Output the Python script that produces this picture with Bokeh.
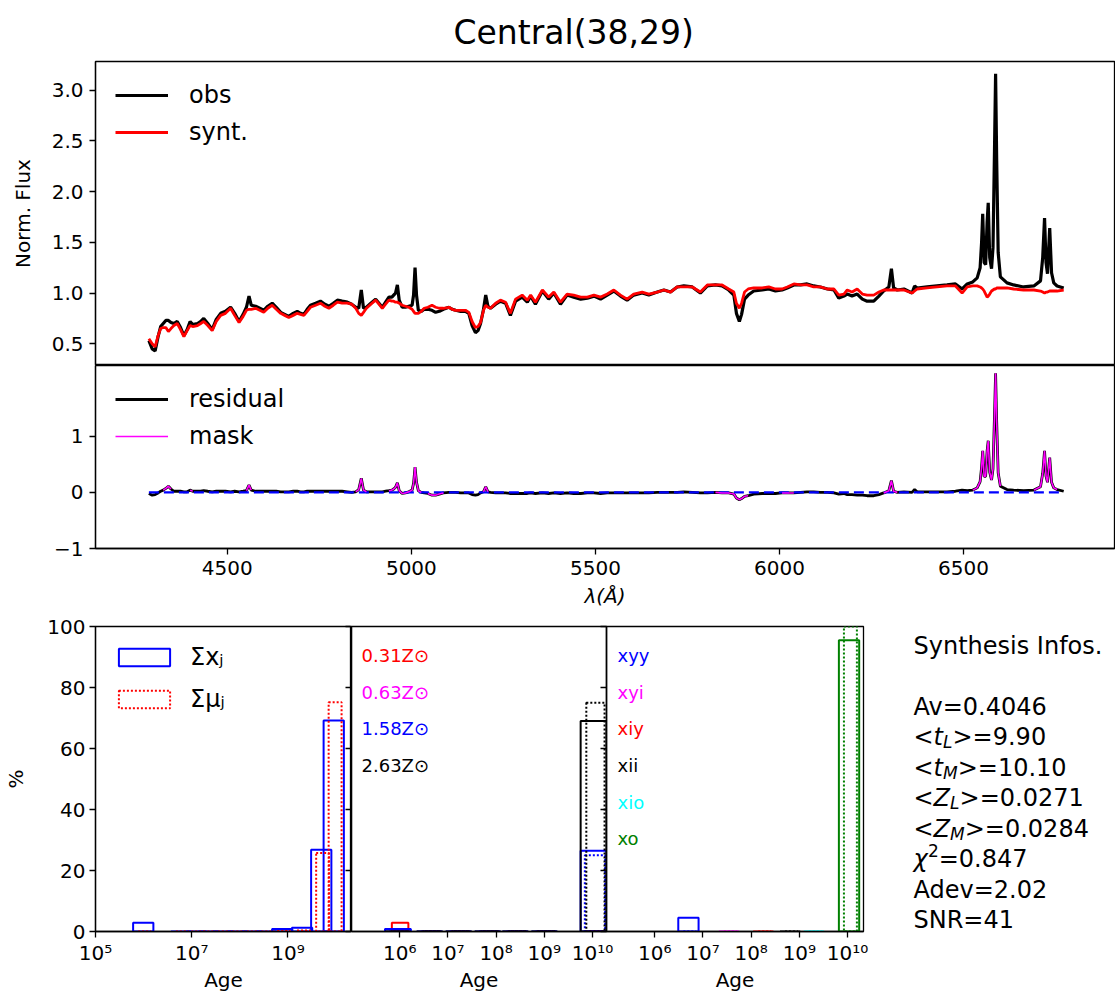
import numpy as np
from bokeh.plotting import figure
from bokeh.layouts import column, row
from bokeh.models import (Range1d, FixedTicker, PrintfTickFormatter, CustomJSTickFormatter,
                          Legend, LegendItem, Label, ColumnDataSource)
from bokeh.embed import file_html
from bokeh.resources import INLINE

FONT = "DejaVu Sans"

# ---------------- spectrum (normalised flux) ----------------
wave = [4287, 4296, 4304, 4312, 4319, 4326, 4333, 4340, 4347, 4355,
        4364, 4373, 4382, 4391, 4399, 4406, 4419, 4428, 4436, 4447,
        4459, 4470, 4482, 4495, 4509, 4520, 4532, 4543, 4552, 4559,
        4565, 4577, 4588, 4599, 4610, 4622, 4633, 4645, 4656, 4667,
        4679, 4690, 4699, 4708, 4717, 4726, 4740, 4753, 4765, 4776,
        4788, 4799, 4812, 4826, 4838, 4849, 4857, 4864, 4870, 4878,
        4890, 4903, 4912, 4921, 4930, 4939, 4947, 4952, 4957, 4962,
        4967, 4975, 4984, 4993, 5002, 5006, 5010, 5014, 5019, 5027,
        5035, 5045, 5056, 5066, 5076, 5087, 5102, 5111, 5120, 5134,
        5147, 5156, 5165, 5174, 5181, 5188, 5196, 5202, 5208, 5215,
        5229, 5242, 5256, 5269, 5283, 5301, 5315, 5324, 5337, 5356,
        5373, 5387, 5405, 5423, 5441, 5460, 5478, 5496, 5514, 5532,
        5550, 5568, 5586, 5604, 5627, 5645, 5668, 5686, 5704, 5722,
        5740, 5763, 5785, 5804, 5826, 5844, 5862, 5876, 5883, 5891,
        5897, 5905, 5915, 5930, 5953, 5971, 5989, 6007, 6021, 6039,
        6057, 6075, 6093, 6111, 6130, 6148, 6161, 6175, 6184, 6197,
        6211, 6225, 6238, 6256, 6270, 6283, 6297, 6304, 6310, 6320,
        6338, 6360, 6367, 6374, 6401, 6428, 6455, 6478, 6496, 6510,
        6525, 6537, 6545, 6549, 6552, 6556, 6560, 6564, 6567, 6571,
        6576, 6580, 6584, 6587, 6590, 6594, 6600, 6618, 6636, 6663,
        6691, 6709, 6715, 6720, 6724, 6728, 6734, 6739, 6745, 6754,
        6772]

flux_syn = [0.55, 0.50, 0.47, 0.58, 0.65, 0.66, 0.66, 0.62, 0.65, 0.68,
            0.70, 0.64, 0.57, 0.63, 0.68, 0.67, 0.68, 0.70, 0.72, 0.68,
            0.63, 0.72, 0.78, 0.80, 0.85, 0.78, 0.71, 0.77, 0.83, 0.84,
            0.84, 0.85, 0.83, 0.81, 0.85, 0.88, 0.84, 0.80, 0.78, 0.76,
            0.78, 0.80, 0.79, 0.78, 0.82, 0.86, 0.88, 0.90, 0.87, 0.85,
            0.88, 0.91, 0.90, 0.90, 0.89, 0.85, 0.80, 0.78, 0.81, 0.85,
            0.89, 0.93, 0.89, 0.85, 0.89, 0.93, 0.92, 0.92, 0.91, 0.91,
            0.90, 0.88, 0.87, 0.86, 0.84, 0.82, 0.80, 0.80, 0.80, 0.82,
            0.85, 0.86, 0.88, 0.86, 0.85, 0.85, 0.86, 0.84, 0.83, 0.83,
            0.83, 0.81, 0.72, 0.66, 0.67, 0.71, 0.83, 0.88, 0.86, 0.85,
            0.90, 0.93, 0.91, 0.80, 0.94, 0.98, 0.93, 0.98, 0.91, 1.03,
            0.96, 1.01, 0.91, 0.99, 0.98, 0.96, 0.96, 0.98, 0.96, 0.99,
            1.03, 0.98, 0.94, 0.99, 1.01, 0.99, 1.01, 1.03, 1.01, 1.06,
            1.06, 1.06, 1.01, 1.08, 1.08, 1.08, 1.04, 1.01, 0.90, 0.85,
            0.90, 1.01, 1.04, 1.05, 1.05, 1.06, 1.04, 1.04, 1.06, 1.09,
            1.08, 1.08, 1.06, 1.06, 1.04, 1.04, 0.98, 0.99, 1.03, 1.01,
            1.04, 0.99, 0.98, 0.98, 1.01, 1.03, 1.03, 1.03, 1.03, 1.03,
            1.03, 1.00, 1.02, 1.04, 1.05, 1.06, 1.07, 1.07, 1.00, 1.06,
            1.07, 1.07, 1.06, 1.05, 1.04, 1.02, 0.99, 0.96, 0.97, 0.99,
            1.02, 1.03, 1.04, 1.04, 1.05, 1.05, 1.05, 1.05, 1.04, 1.03,
            1.03, 1.02, 1.01, 1.00, 1.01, 1.01, 1.02, 1.02, 1.02, 1.02,
            1.03]

flux_obs = [0.53, 0.45, 0.43, 0.57, 0.67, 0.70, 0.73, 0.73, 0.71, 0.70,
            0.72, 0.66, 0.58, 0.64, 0.72, 0.69, 0.70, 0.72, 0.75, 0.70,
            0.64, 0.74, 0.80, 0.82, 0.86, 0.80, 0.72, 0.79, 0.86, 0.97,
            0.88, 0.87, 0.85, 0.83, 0.87, 0.90, 0.86, 0.81, 0.79, 0.77,
            0.80, 0.82, 0.80, 0.79, 0.84, 0.88, 0.90, 0.92, 0.89, 0.87,
            0.90, 0.93, 0.92, 0.91, 0.89, 0.86, 0.85, 1.03, 0.85, 0.86,
            0.90, 0.94, 0.90, 0.86, 0.91, 0.96, 0.96, 0.98, 1.00, 1.08,
            0.93, 0.86, 0.86, 0.87, 0.88, 0.98, 1.25, 0.98, 0.83, 0.82,
            0.84, 0.84, 0.83, 0.81, 0.82, 0.84, 0.86, 0.84, 0.83, 0.82,
            0.82, 0.80, 0.68, 0.61, 0.63, 0.70, 0.84, 0.98, 0.87, 0.85,
            0.89, 0.92, 0.90, 0.78, 0.92, 0.96, 0.91, 0.97, 0.89, 1.02,
            0.94, 1.00, 0.89, 0.98, 0.96, 0.94, 0.95, 0.97, 0.94, 0.98,
            1.02, 0.97, 0.93, 0.98, 1.00, 0.98, 1.01, 1.03, 1.01, 1.06,
            1.07, 1.06, 1.00, 1.07, 1.08, 1.07, 1.03, 0.98, 0.80, 0.72,
            0.79, 0.94, 0.98, 1.02, 1.03, 1.04, 1.02, 1.03, 1.05, 1.08,
            1.08, 1.09, 1.07, 1.06, 1.04, 1.03, 0.95, 0.97, 0.99, 0.97,
            0.99, 0.94, 0.92, 0.92, 0.97, 1.02, 1.06, 1.24, 1.05, 1.03,
            1.04, 1.00, 1.07, 1.05, 1.06, 1.07, 1.08, 1.09, 1.04, 1.09,
            1.11, 1.15, 1.25, 1.50, 1.78, 1.30, 1.28, 1.70, 1.89, 1.35,
            1.24, 1.45, 2.40, 3.16, 2.30, 1.40, 1.16, 1.10, 1.08, 1.06,
            1.07, 1.12, 1.35, 1.74, 1.30, 1.19, 1.64, 1.20, 1.10, 1.07,
            1.05]

# wavelength windows flagged in the fit (emission lines, NaD, ...)
mask_windows = [(4325, 4352), (4393, 4410), (4545, 4570), (4845, 4880),
                (4935, 5030), (5040, 5092), (5194, 5210), (5815, 5925),
                (6005, 6050), (6280, 6325), (6520, 6610), (6688, 6756)]

# ---------------- population vectors ----------------
# summed over metallicity
ages_sum = [1.1e6, 6.7e6, 1.4e7, 2.5e7, 5.0e7, 1.0e8, 2.0e8, 4.0e8, 8.5e8, 2.2e9, 5.5e9, 1.0e10]
xj_sum = [2.9, 0, 0, 0, 0, 0, 0, 0, 0.8, 1.2, 26.8, 69.2]
muj_sum = [0, 0, 0, 0, 0, 0, 0, 0, 0.2, 0.3, 25.7, 75.2]

# per metallicity
met_labels = ["0.31Z\u2299", "0.63Z\u2299", "1.58Z\u2299", "2.63Z\u2299"]
met_colors = ["red", "magenta", "blue", "black"]
ages_met = [1.1e6, 5.0e6, 2.0e7, 8.0e7, 3.0e8, 1.2e9, 1.26e10]
xj_met = [[2.9, 0, 0, 0, 0, 0, 0],
          [0, 0, 0, 0, 0, 0, 0],
          [0.8, 0, 0, 0, 0, 0, 26.5],
          [0, 0, 0, 0, 0, 0, 69.0]]
muj_met = [[0, 0, 0, 0, 0, 0, 0],
           [0, 0, 0, 0, 0, 0, 0],
           [0, 0, 0, 0, 0, 0, 25.0],
           [0, 0, 0, 0, 0, 0, 75.0]]
w_x_met = [0.75, 0.9, 1.1, 1.1]
w_mu_met = [0.5, 0.6, 0.9, 0.82]

# condensed age groups
grp_labels = ["xyy", "xyi", "xiy", "xii", "xio", "xo"]
grp_colors = ["blue", "magenta", "red", "black", "cyan", "green"]
grp_ages = [5.6e6, 3.9e7, 2.0e8, 7.2e8, 2.25e9, 1.2e10]
grp_x = [4.5, 0, 0, 0, 0, 95.5]
grp_mu = [0, 0, 0, 0, 0, 100.0]

info_title = "Synthesis Infos."
info_lines = [
    [("Av=0.4046", "n")],
    [("<", "n"), ("t", "i"), ("L", "sub"), (">=9.90", "n")],
    [("<", "n"), ("t", "i"), ("M", "sub"), (">=10.10", "n")],
    [("<", "n"), ("Z", "i"), ("L", "sub"), (">=0.0271", "n")],
    [("<", "n"), ("Z", "i"), ("M", "sub"), (">=0.0284", "n")],
    [("\u03c7", "i"), ("2", "sup"), ("=0.847", "n")],
    [("Adev=2.02", "n")],
    [("SNR=41", "n")],
]

# ---------------- helpers ----------------
wave_a = np.array(wave, float)
obs_a = np.array(flux_obs, float)
syn_a = np.array(flux_syn, float)
resid = obs_a - syn_a
in_mask = np.zeros(len(wave_a), bool)
for lo, hi in mask_windows:
    in_mask |= (wave_a >= lo) & (wave_a <= hi)
resid_mask = np.where(in_mask, resid, np.nan)

SUP = CustomJSTickFormatter(code="""
const s = ["\u2070","\u00b9","\u00b2","\u00b3","\u2074","\u2075","\u2076","\u2077","\u2078","\u2079"];
const e = Math.round(Math.log10(tick));
let out = "";
for (const c of String(e)) { out += s[Number(c)]; }
return "10" + out;
""")
MINUS = CustomJSTickFormatter(code="return tick < 0 ? '\u2212' + Math.abs(tick) : String(tick);")
BLANK = CustomJSTickFormatter(code="return '';")
DOT = "2 2"


def style_axes(p):
    p.outline_line_color = "black"
    p.outline_line_width = 1.3
    p.grid.visible = False
    for ax in p.axis:
        ax.axis_line_width = 1.3
        ax.major_tick_line_width = 1.3
        ax.major_tick_out = 6
        ax.major_tick_in = 0
        ax.minor_tick_line_color = None
        ax.major_label_text_font = FONT
        ax.major_label_text_font_size = "20px"
        ax.major_label_text_color = "black"
        ax.axis_label_text_font = FONT
        ax.axis_label_text_font_size = "20px"
        ax.axis_label_text_font_style = "normal"
        ax.axis_label_text_color = "black"


def line_legend(items, location="top_left"):
    return Legend(items=items, location=location, margin=10, padding=10, spacing=9,
                  glyph_width=53, glyph_height=28, label_height=28, label_standoff=21,
                  label_text_font=FONT, label_text_font_size="24px", label_text_color="black",
                  border_line_alpha=0, background_fill_alpha=0)


def bars(p, ages, heights, width_frac, color, dash="solid"):
    a = np.asarray(ages, float)
    src = ColumnDataSource(dict(left=a * (1 - width_frac / 2), right=a * (1 + width_frac / 2),
                                top=np.asarray(heights, float), bottom=np.zeros(len(a))))
    r = p.quad(left="left", right="right", top="top", bottom="bottom", source=src,
               fill_color=None, line_color=color, line_width=2)
    r.glyph.line_dash = dash
    return r


def text_at(fig, x, y, txt, size=20, style="normal", color="black"):
    # y is the wanted baseline height above the frame bottom
    fig.add_layout(Label(x=x, y=y + 0.4 * size, x_units="screen", y_units="screen", text=txt,
                         text_font=FONT, text_font_size=f"{size}px", text_font_style=style,
                         text_color=color, text_baseline="alphabetic"))


# ---------------- spectrum panel ----------------
xr = Range1d(4142, 6910)
p1 = figure(width=1115, height=365, x_range=xr, y_range=Range1d(0.286, 3.282),
            x_axis_location=None, output_backend="svg", toolbar_location=None,
            min_border_left=95, min_border_right=1, min_border_top=61, min_border_bottom=0)
r_obs = p1.line(wave, flux_obs, line_color="black", line_width=3.2)
r_syn = p1.line(wave, flux_syn, line_color="red", line_width=2.8)
p1.yaxis.ticker = FixedTicker(ticks=[0.5, 1.0, 1.5, 2.0, 2.5, 3.0])
p1.yaxis.formatter = PrintfTickFormatter(format="%.1f")
p1.yaxis.axis_label = "Norm. Flux"
style_axes(p1)
p1.yaxis.major_label_standoff = 6
p1.yaxis.axis_label_standoff = 14
p1.title.text = "Central(38,29)"
p1.title.text_font = FONT
p1.title.text_font_size = "33px"
p1.title.text_font_style = "normal"
p1.title.text_color = "black"
p1.title.align = "left"
p1.title.offset = 358
p1.title.standoff = 20
p1.add_layout(line_legend([LegendItem(label="obs", renderers=[r_obs]),
                           LegendItem(label="synt.", renderers=[r_syn])]))

# ---------------- residual panel ----------------
p2 = figure(width=1115, height=249, x_range=xr, y_range=Range1d(-1, 2.26),
            output_backend="svg", toolbar_location=None,
            min_border_left=95, min_border_right=1, min_border_top=0, min_border_bottom=66)
r_res = p2.line(wave, resid, line_color="black", line_width=2.8)
p2.line([wave[0], wave[-1]], [0, 0], line_color="blue", line_width=2.4, line_dash="10 5")
r_msk = p2.line(wave, resid_mask, line_color="magenta", line_width=1.6)
p2.yaxis.ticker = FixedTicker(ticks=[-1, 0, 1])
p2.yaxis.formatter = MINUS
p2.xaxis.ticker = FixedTicker(ticks=[4500, 5000, 5500, 6000, 6500])
p2.xaxis.axis_label = "\u03bb(\u00c5)"
style_axes(p2)
p2.xaxis.axis_label_text_font_style = "italic"
p2.xaxis.major_label_standoff = 6
p2.xaxis.axis_label_standoff = 6
p2.yaxis.major_label_standoff = 6
p2.add_layout(line_legend([LegendItem(label="residual", renderers=[r_res]),
                           LegendItem(label="mask", renderers=[r_msk])]))

# ---------------- population panels ----------------
TOP, FRAME_H, BOTTOM = 12, 305, 63
pct_ticks = [0, 20, 40, 60, 80, 100]


def age_axis(p, ticks):
    p.xaxis.ticker = FixedTicker(ticks=ticks)
    p.xaxis.formatter = SUP
    p.xaxis.axis_label = "Age"


# summed over metallicity
p3 = figure(width=351, height=TOP + FRAME_H + BOTTOM, x_axis_type="log",
            x_range=Range1d(1e5, 10 ** 10.32), y_range=Range1d(0, 100),
            output_backend="svg", toolbar_location=None,
            min_border_left=95, min_border_right=0, min_border_top=TOP, min_border_bottom=BOTTOM)
r_xs = bars(p3, ages_sum, xj_sum, 0.9, "blue")
r_ms = bars(p3, ages_sum, muj_sum, 0.6, "red", DOT)
age_axis(p3, [1e5, 1e7, 1e9])
p3.yaxis.ticker = FixedTicker(ticks=pct_ticks)
p3.yaxis.axis_label = "%"
style_axes(p3)
p3.xaxis.major_label_standoff = 3
p3.xaxis.axis_label_standoff = 0
p3.yaxis.major_label_standoff = 4
p3.yaxis.axis_label_standoff = 16
p3.add_layout(Legend(items=[LegendItem(label="\u03a3x\u2c7c", renderers=[r_xs]),
                            LegendItem(label="\u03a3\u03bc\u2c7c", renderers=[r_ms])],
                     location="top_left", margin=8, padding=9, spacing=14,
                     glyph_width=64, glyph_height=22, label_standoff=14,
                     label_text_font=FONT, label_text_font_size="24px", label_text_color="black",
                     border_line_alpha=0, background_fill_alpha=0))


def side_panel(width_px, xmax, right_pad, shift):
    p = figure(width=7 + width_px + right_pad, height=TOP + FRAME_H + BOTTOM, x_axis_type="log",
               x_range=Range1d(1e5, xmax), y_range=Range1d(0, 100),
               output_backend="svg", toolbar_location=None,
               min_border_left=7, min_border_right=right_pad, min_border_top=TOP,
               min_border_bottom=BOTTOM, margin=(0, 0, 0, shift))
    p.border_fill_alpha = 0
    age_axis(p, [1e6, 1e7, 1e8, 1e9, 1e10])
    p.yaxis.ticker = FixedTicker(ticks=pct_ticks)
    p.yaxis.formatter = BLANK
    style_axes(p)
    p.yaxis.major_label_standoff = 0
    p.xaxis.major_label_standoff = 3
    p.xaxis.axis_label_standoff = 0
    return p


# per metallicity
p4 = side_panel(255, 10 ** 10.29, 10, -7)
for k in range(len(met_labels)):
    bars(p4, ages_met, xj_met[k], w_x_met[k], met_colors[k])
    bars(p4, ages_met, muj_met[k], w_mu_met[k], met_colors[k], DOT)
    text_at(p4, 10, 268.7 - 36.6 * k, met_labels[k], size=18, color=met_colors[k])

# condensed age groups
p5 = side_panel(257, 10 ** 10.33, 8, -17)
p5.background_fill_alpha = 0
for k in range(len(grp_labels)):
    bars(p5, [grp_ages[k]], [grp_x[k]], 0.9, grp_colors[k])
    bars(p5, [grp_ages[k]], [grp_mu[k]], 0.6, grp_colors[k], DOT)
    text_at(p5, 11, 268.7 - 36.6 * k, grp_labels[k], size=18, color=grp_colors[k])

# ---------------- synthesis summary ----------------
p6 = figure(width=244, height=TOP + FRAME_H + BOTTOM, x_range=Range1d(0, 1), y_range=Range1d(0, 1),
            x_axis_location=None, y_axis_location=None, output_backend="svg",
            toolbar_location=None, min_border_left=0, min_border_right=0,
            min_border_top=TOP, min_border_bottom=BOTTOM, outline_line_color=None)
p6.grid.visible = False

CW = {"<": 0.838, ">": 0.838, "=": 0.838, "t": 0.392, "Z": 0.685, "L": 0.557,
      "M": 0.863, "2": 0.636, "\u03c7": 0.60}
KIND = {"n": (24, "normal", 0), "i": (24, "italic", 0),
        "sub": (17, "italic", -5), "sup": (17, "normal", 9)}

X0, TOP_BASE, STEP = 42, 276, 30.5
text_at(p6, X0, TOP_BASE, info_title, size=24)
for i, parts in enumerate(info_lines):
    x = X0
    y = TOP_BASE - STEP * (i + 2)
    for txt, kind in parts:
        size, style, dy = KIND[kind]
        text_at(p6, x, y + dy + 0.4 * (24 - size), txt, size=size, style=style)
        x += sum(CW.get(c, 0.62) for c in txt) * size

layout = column(p1, p2, row(p3, p4, p5, p6))
with open("out.html", "w", encoding="utf-8") as f:
    f.write(file_html(layout, INLINE))
